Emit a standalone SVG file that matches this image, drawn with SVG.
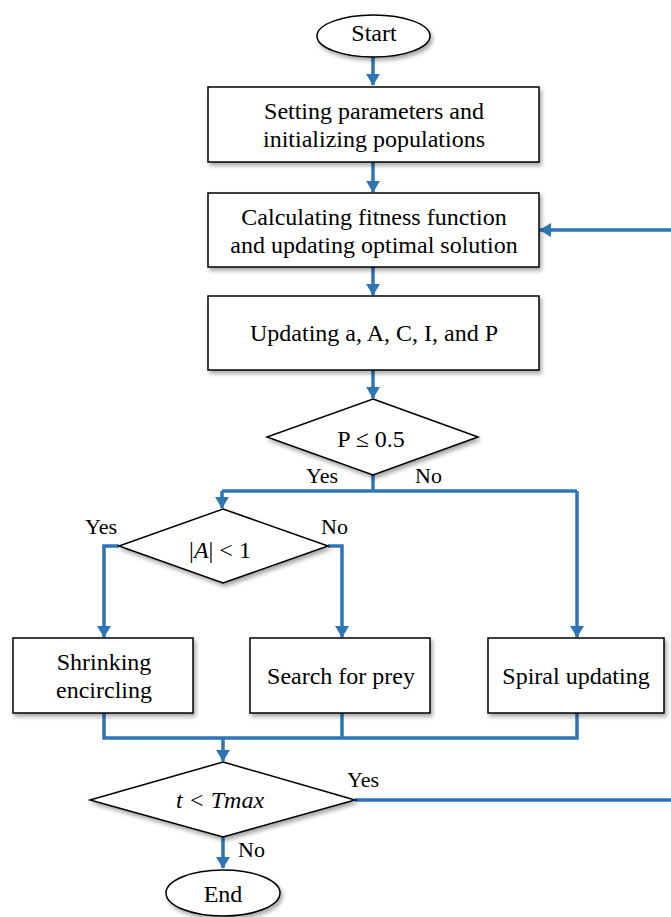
<svg xmlns="http://www.w3.org/2000/svg" width="671" height="917" viewBox="0 0 671 917">
<style>
.n{fill:#fff;stroke:#000;stroke-width:1.5;filter:url(#sh)}
text{font-family:"Liberation Serif","Times New Roman",Tinos,Times,serif;fill:#000}
.t{font-size:24px;text-anchor:middle}
.l{font-size:22px}
.c{fill:none;stroke:#2E75B6;stroke-width:3.5}
.a{marker-end:url(#ah)}
</style>
<defs>
<marker id="ah" markerWidth="4" markerHeight="4" refX="3.2" refY="2" orient="auto" markerUnits="strokeWidth">
<path d="M0,0 L3.4,2 L0,4 z" fill="#2E75B6"/>
</marker>
<filter id="sh" x="-10%" y="-10%" width="125%" height="130%">
<feDropShadow dx="2" dy="3" stdDeviation="2" flood-color="#000" flood-opacity="0.35"/>
</filter>
</defs>
<g id="connectors">
<path class="c a" d="M373,57 V85"/>
<path class="c a" d="M373,162 V192"/>
<path class="c a" d="M373,267 V295"/>
<path class="c a" d="M373,370 V398"/>
<path class="c" d="M373,475 V491"/>
<path class="c" d="M222,491 H577"/>
<path class="c a" d="M222,491 V508"/>
<path class="c a" d="M577,491 V637"/>
<path class="c a" d="M119,546 H104 V637"/>
<path class="c a" d="M328,546 H342 V637"/>
<path class="c" d="M104,713 V738 H577 V713"/>
<path class="c" d="M342,713 V738"/>
<path class="c a" d="M223,738 V761"/>
<path class="c a" d="M223,837 V868"/>
<path class="c a" d="M355,800 H673 V230 H540"/>
</g>
<g id="start">
<ellipse class="n" cx="373.5" cy="36" rx="56.5" ry="21"/>
<text class="t" x="374" y="41">Start</text>
</g>
<g id="init">
<rect class="n" x="208" y="87" width="331" height="75"/>
<text class="t" x="374" y="119">Setting parameters and</text>
<text class="t" x="374" y="147">initializing populations</text>
</g>
<g id="fitness">
<rect class="n" x="208" y="193" width="331" height="74"/>
<text class="t" x="374" y="225">Calculating fitness function</text>
<text class="t" x="374" y="253">and updating optimal solution</text>
</g>
<g id="update">
<rect class="n" x="208" y="296" width="331" height="74"/>
<text class="t" x="374" y="341">Updating a, A, C, I, and P</text>
</g>
<g id="d1">
<polygon class="n" points="373,399 478,437 373,475 267,437"/>
<text class="t" x="371" y="447">P ≤ 0.5</text>
</g>
<g id="d2">
<polygon class="n" points="223,509 328,546 223,583 119,546"/>
<text class="t" x="220" y="558">|<tspan font-style="italic">A</tspan>| &lt; 1</text>
</g>
<g id="shrink">
<rect class="n" x="13" y="638" width="180" height="75"/>
<text class="t" x="104" y="670">Shrinking</text>
<text class="t" x="104" y="698">encircling</text>
</g>
<g id="search">
<rect class="n" x="250" y="638" width="180" height="75"/>
<text class="t" x="341" y="684">Search for prey</text>
</g>
<g id="spiral">
<rect class="n" x="488" y="638" width="176" height="75"/>
<text class="t" x="576" y="684">Spiral updating</text>
</g>
<g id="d3">
<polygon class="n" points="223,762 355,800 223,837 90,800"/>
<text class="t" x="220" y="808" font-style="italic">t &lt; Tmax</text>
</g>
<g id="end">
<ellipse class="n" cx="223" cy="893" rx="57" ry="23"/>
<text class="t" x="223" y="902">End</text>
</g>
<g id="labels">
<text class="l" x="306" y="483">Yes</text>
<text class="l" x="415" y="483">No</text>
<text class="l" x="85" y="534">Yes</text>
<text class="l" x="321" y="534">No</text>
<text class="l" x="347" y="787">Yes</text>
<text class="l" x="238" y="857">No</text>
</g>
</svg>
